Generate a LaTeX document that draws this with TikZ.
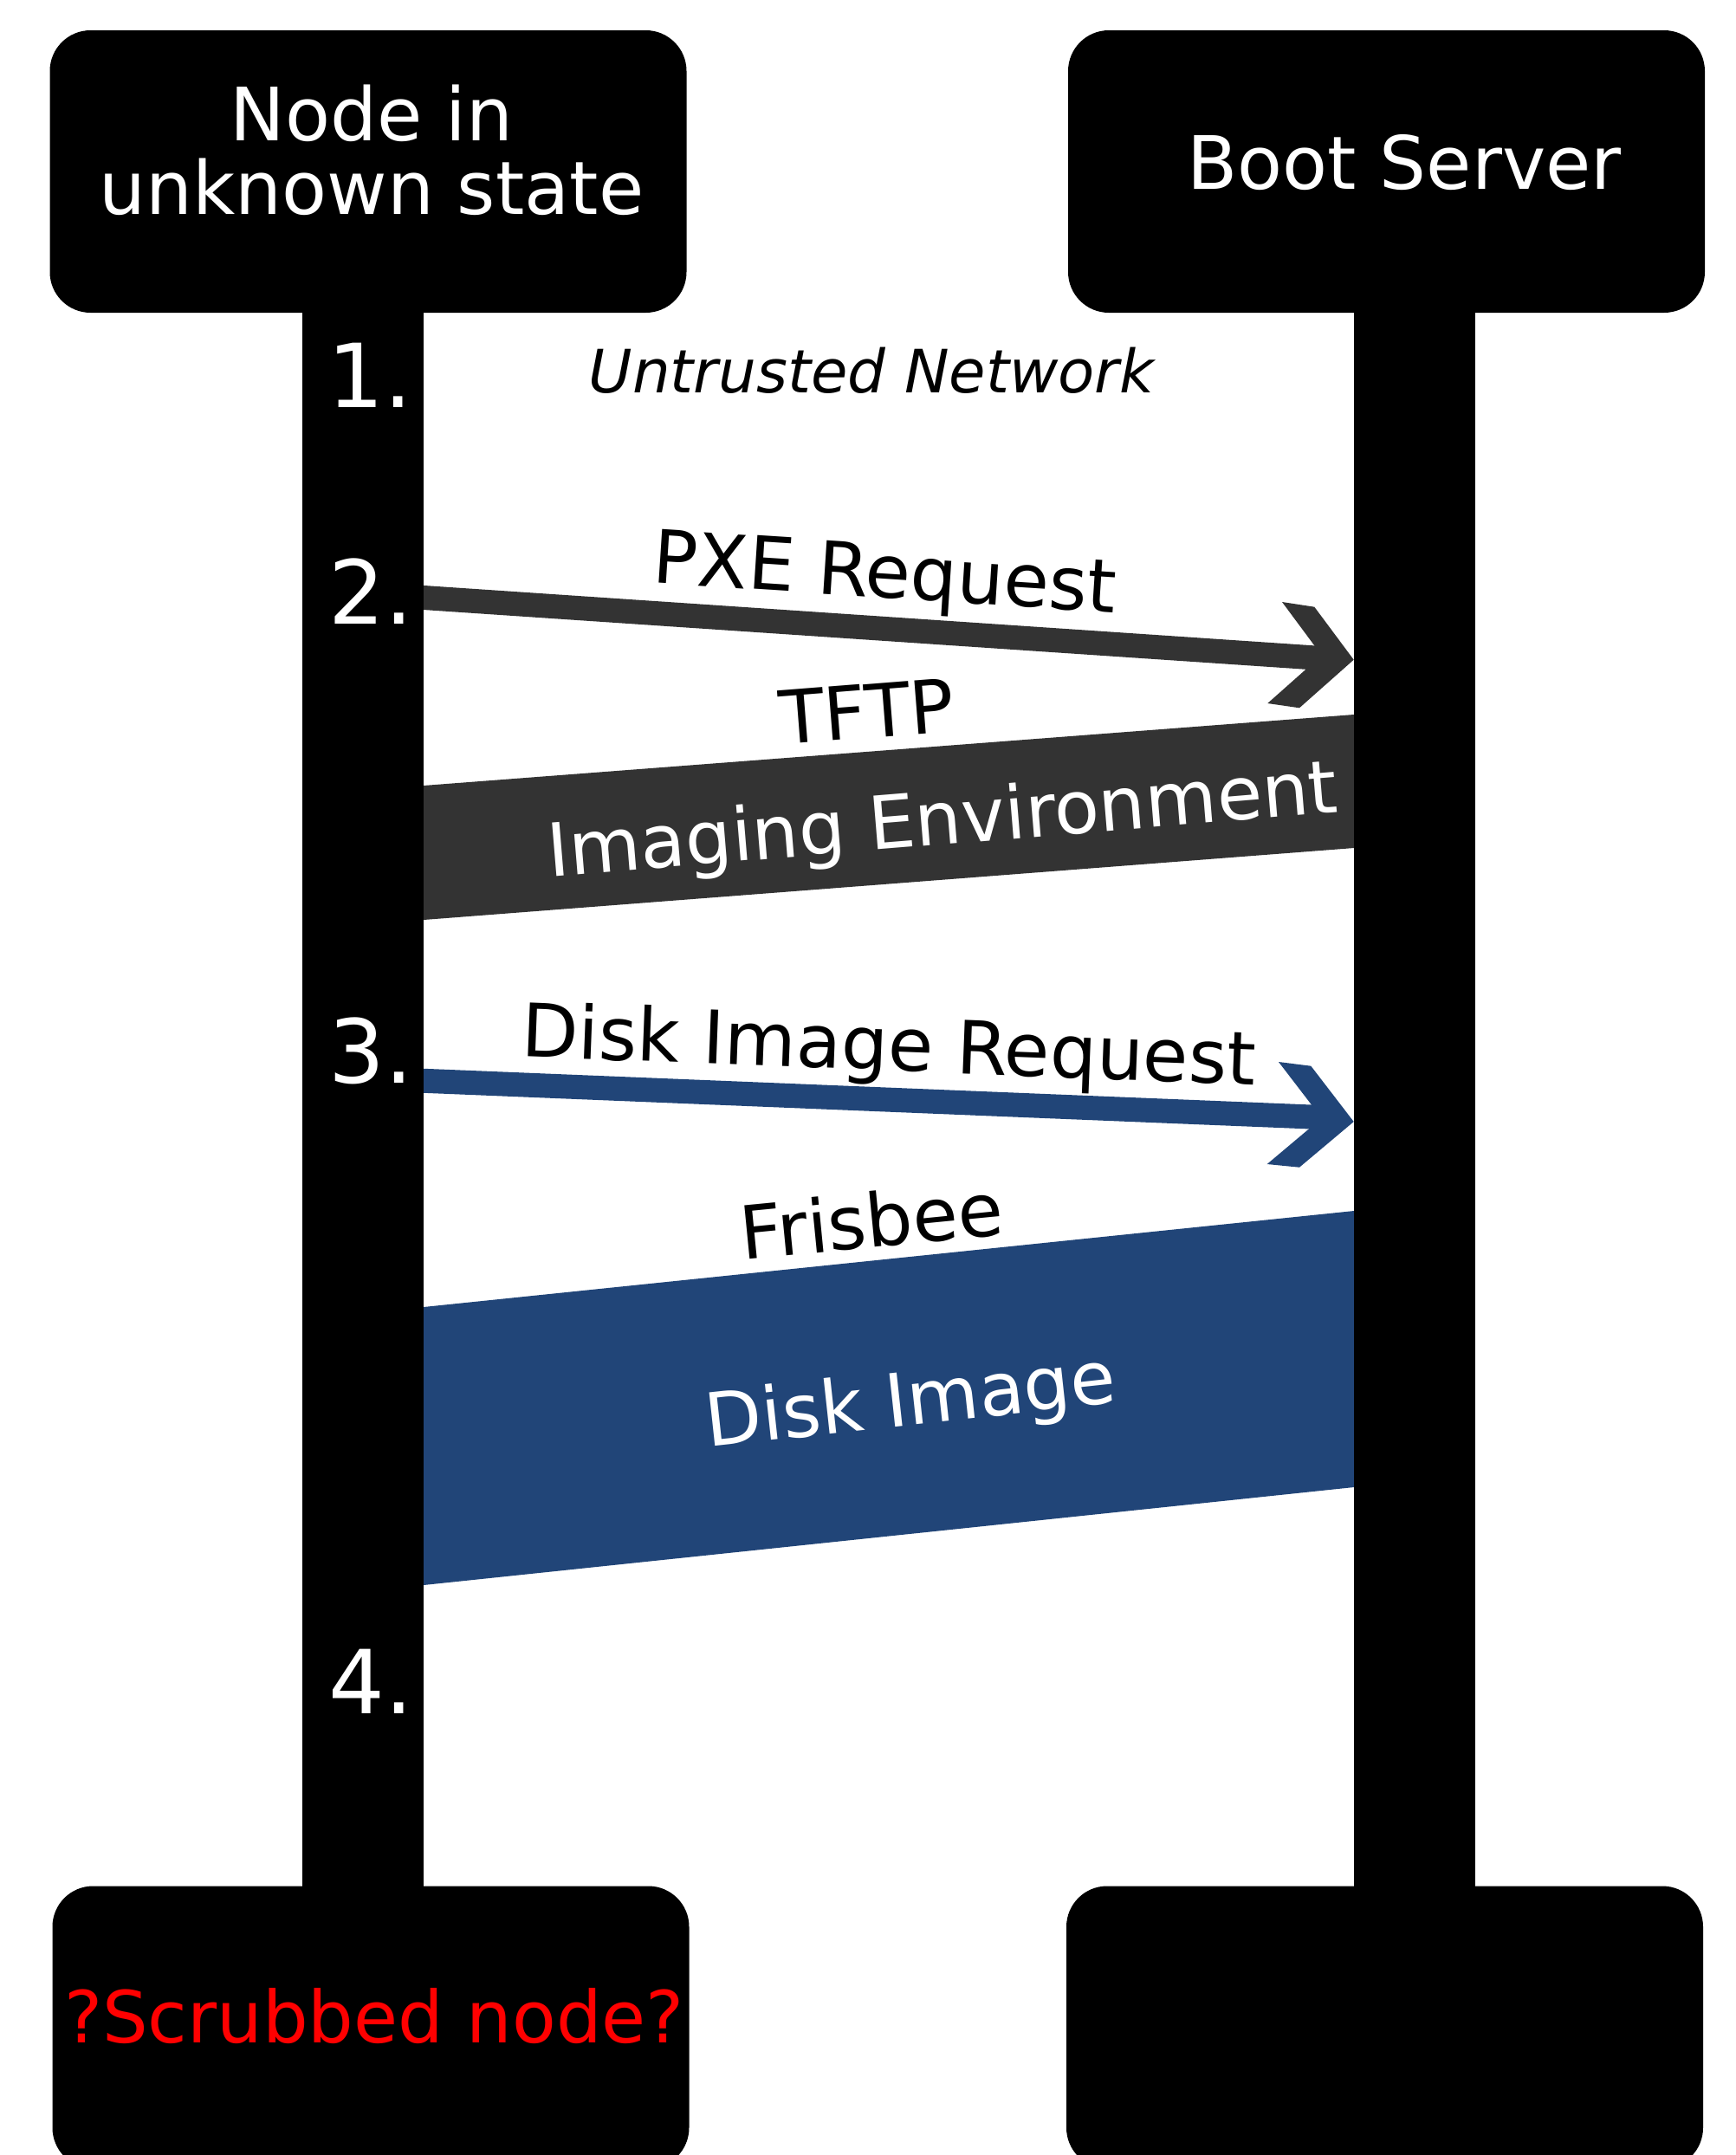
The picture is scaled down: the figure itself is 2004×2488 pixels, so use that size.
\documentclass[tikz,border=0pt]{standalone}
\usepackage{fontspec}
\setmainfont{DejaVu Sans}[ItalicFont={DejaVu Sans Oblique}]
\definecolor{dgray}{RGB}{51,51,51}
\definecolor{dblue}{RGB}{33,69,120}
\begin{document}
\begin{tikzpicture}[x=0.3pt,y=-0.3pt,
  box/.style={fill=black,rounded corners=14.1pt,minimum width=220.5pt,minimum height=97.8pt,inner sep=0pt,draw=none},
  life/.style={fill=black,inner sep=0pt,minimum width=42pt,minimum height=555pt},
  lbl/.style={font=\fontsize{25.5pt}{25.5pt}\selectfont,anchor=base,inner sep=0pt},
  num/.style={font=\fontsize{30.6pt}{30.6pt}\selectfont,text=white,anchor=base,inner sep=0pt},
  msg/.style={line width=8.4pt},
]
\useasboundingbox (0,0) rectangle (2004,2488);
% message arrows and bands (drawn first, lifelines cover their ends)
\coordinate (pxeS) at (470,688.7);
\coordinate (pxeE) at (1526,760);
\draw[msg,dgray] (pxeS) -- (pxeE);
\fill[dgray] (1480,695) -- (1517.3,700.7) -- (1562.7,761.7) -- (1500,817.3) -- (1463.3,812) -- (1525.7,756.6) -- cycle;
\fill[dgray] (489,907) -- (1563,825) -- (1563,979) -- (489,1062) -- cycle;
\coordinate (dirS) at (470,1247);
\coordinate (dirE) at (1526,1290);
\draw[msg,dblue] (dirS) -- (dirE);
\fill[dblue] (1476,1226) -- (1513.3,1230.7) -- (1562.7,1295) -- (1500,1347.7) -- (1462.7,1344) -- (1525.8,1290.9) -- cycle;
\fill[dblue] (489,1509) -- (1563,1398) -- (1563,1717) -- (489,1830) -- cycle;
% lifelines
\node[life] (LL) at (419,1270) {};
\node[life] (RL) at (1633,1270) {};
% boxes
\node[box] (TL) at (425,198) {};
\node[box] (TR) at (1600.5,198) {};
\node[box] (BL) at (428,2340.5) {};
\node[box] (BR) at (1598.5,2340.5) {};
% box texts
\node[lbl,text=white,anchor=center,align=center] (tTL) at (429,173) {Node in\\unknown state};
\node[lbl,text=white] (tTR) at (1621,218) {Boot Server};
\node[lbl,text=red,font=\fontsize{24.9pt}{24.9pt}\selectfont] (tBL) at (432,2358) {?Scrubbed node?};
% numbers
\node[num] (n1) at (427,470) {1.};
\node[num] (n2) at (428,720) {2.};
\node[num] (n3) at (428,1250) {3.};
\node[num] (n4) at (428,1978) {4.};
% labels
\node[lbl,font=\fontsize{20.7pt}{20.7pt}\selectfont\itshape] (un) at (1006,453) {Untrusted Network};
\node[lbl,rotate=-3.7] (lpxe) at (1020,690) {PXE Request};
\node[lbl,rotate=4.5] (ltftp) at (1003,852) {TFTP};
\node[lbl,rotate=4.7,text=white] (limg) at (1090,975) {Imaging Environment};
\node[lbl,rotate=-2.2] (ldir) at (1025,1236) {Disk Image Request};
\node[lbl,rotate=5.6] (lfris) at (1009,1440) {Frisbee};
\node[lbl,rotate=6.2,text=white] (ldi) at (1054,1645) {Disk Image};
\end{tikzpicture}
\end{document}
